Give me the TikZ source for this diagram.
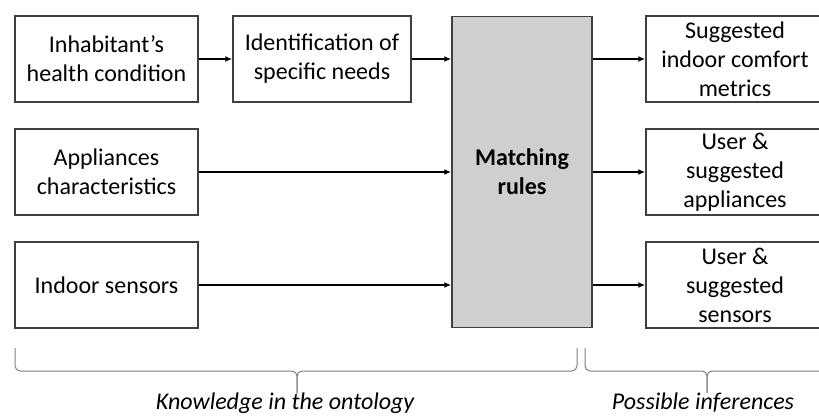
\documentclass[tikz,border=0pt]{standalone}
\usepackage{fontspec}
\setmainfont{Carlito}
\usetikzlibrary{arrows.meta}

\definecolor{rulegray}{RGB}{208,206,206}
\definecolor{edgegray}{RGB}{64,64,64}

\begin{document}
\begin{tikzpicture}[
  x=1pt, y=-1pt,
  box/.style={rectangle, draw=edgegray, line width=1.5pt, fill=white, align=center,
    minimum width=178pt, minimum height=86pt, inner sep=0pt, font=\fontsize{24}{29}\selectfont},
  inbox/.style={box, minimum width=183pt},
  rulebox/.style={box, fill=rulegray, minimum width=140pt, minimum height=311pt,
    font=\fontsize{24}{29}\selectfont\bfseries},
  flow/.style={-{Latex[length=7pt, width=6pt]}, line width=1.7pt},
  brace/.style={draw=gray, line width=1pt, rounded corners=5pt},
  caption/.style={font=\fontsize{24}{29}\selectfont\itshape}
]
  % Frame of the picture (right column runs off the edge)
  \clip (0,0) rectangle (819,416);

  % Inputs (left column)
  \node[inbox] (health) at (106.5,59) {Inhabitant's\\health condition};
  \node[inbox] (appl) at (106.5,172) {Appliances\\characteristics};
  \node[inbox] (sens) at (106.5,285) {Indoor sensors};

  % Intermediate step
  \node[box] (needs) at (322,59) {Identification of\\specific needs};

  % Matching rules
  \node[rulebox] (rules) at (522,172) {Matching\\rules};

  % Outputs (right column)
  \node[box] (metrics) at (735,59) {Suggested\\indoor comfort\\metrics};
  \node[box] (sugappl) at (735,172) {User \&\\suggested\\appliances};
  \node[box] (sugsens) at (735,285) {User \&\\suggested\\sensors};

  % Arrows into the rules
  \draw[flow] (health) -- (needs);
  \draw[flow] (needs.east) -- (needs.east -| rules.west);
  \draw[flow] (appl) -- (rules);
  \draw[flow] (sens.east) -- (sens.east -| rules.west);

  % Arrows out of the rules
  \draw[flow] (rules.east |- metrics.west) -- (metrics.west);
  \draw[flow] (rules.east |- sugappl.west) -- (sugappl.west);
  \draw[flow] (rules.east |- sugsens.west) -- (sugsens.west);

  % Braces
  \draw[brace] (15,348) -- (15,371) -- (297,371) -- (297,393);
  \draw[brace] (577,348) -- (577,371) -- (297,371) -- (297,393);
  \draw[brace] (585,348) -- (585,371) -- (707,371) -- (707,393);
  \draw[brace] (830,348) -- (830,371) -- (707,371) -- (707,393);

  \node[caption] (know) at (285,403) {Knowledge in the ontology};
  \node[caption] (infer) at (703,403) {Possible inferences};
\end{tikzpicture}
\end{document}
